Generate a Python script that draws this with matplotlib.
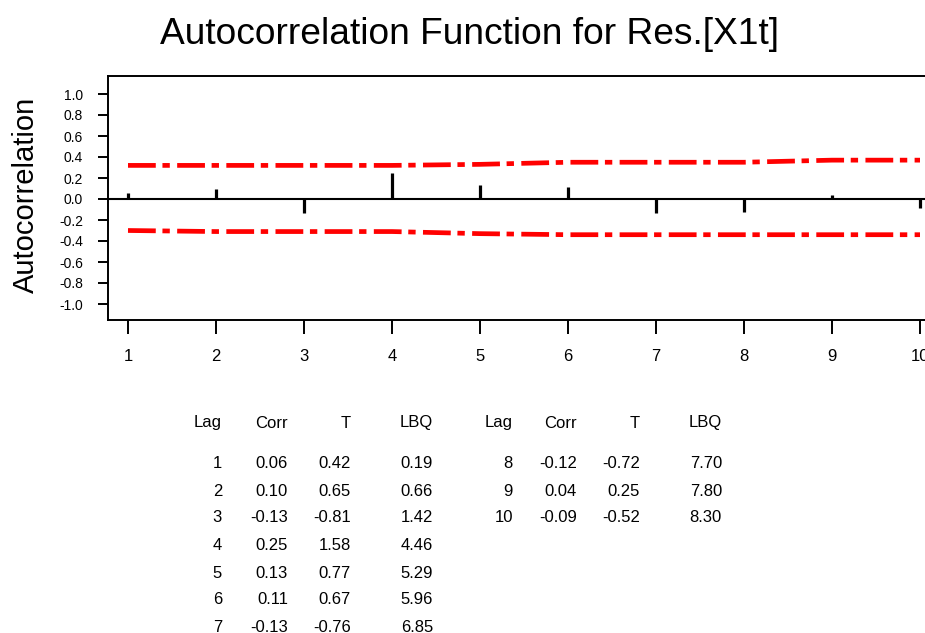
import matplotlib
matplotlib.use("Agg")
import matplotlib.pyplot as plt
import numpy as np

plt.rcParams['font.family'] = ['Liberation Sans', 'DejaVu Sans']
plt.rcParams['lines.scale_dashes'] = False

lags = [1, 2, 3, 4, 5, 6, 7, 8, 9, 10]
corr = [0.06, 0.10, -0.13, 0.25, 0.13, 0.11, -0.13, -0.12, 0.04, -0.09]
tstat = [0.42, 0.65, -0.81, 1.58, 0.77, 0.67, -0.76, -0.72, 0.25, -0.52]
lbq = [0.19, 0.66, 1.42, 4.46, 5.29, 5.96, 6.85, 7.70, 7.80, 8.30]
upper = [0.32, 0.32, 0.32, 0.32, 0.33, 0.35, 0.35, 0.35, 0.37, 0.37]
lower = [-0.30, -0.31, -0.31, -0.31, -0.33, -0.34, -0.34, -0.34, -0.34, -0.34]
yticks = [1.0, 0.8, 0.6, 0.4, 0.2, 0.0, -0.2, -0.4, -0.6, -0.8, -1.0]

W, H = 925, 633
fig = plt.figure(figsize=(W / 100, H / 100), dpi=100)

x_left, x_right_px = 108, 970
ax = fig.add_axes([x_left / W, 1 - 320 / H, (x_right_px - x_left) / W, (320 - 76) / H])
px_per_lag = (920 - 128) / 9
ax.set_xlim(1 - (128 - x_left) / px_per_lag, 1 + (x_right_px - 128) / px_per_lag)
ax.set_ylim(-(320 - 199) / 105, (199 - 76) / 105)

ax.axhline(0, color='black', lw=1.5)
ax.vlines(lags, 0, corr, color='black', lw=2.3)
for series in (upper, lower):
    ax.plot(lags, series, color='#ff0000', lw=3.4, dash_capstyle='butt',
            linestyle=(0, (20, 4.8, 5.3, 5.3)))

ax.set_xticks(lags)
ax.set_xticklabels([str(l) for l in lags], fontsize=12)
ax.set_yticks(yticks)
ax.set_yticklabels([f"{v:.1f}" for v in yticks], fontsize=10)
ax.tick_params(axis='x', length=10, width=1.4, pad=11, colors='black')
ax.tick_params(axis='y', length=7, width=1.4, pad=11)
for s in ('left', 'top', 'bottom'):
    ax.spines[s].set_linewidth(1.4)
ax.spines['right'].set_visible(False)

fig.text(469 / W, 1 - 34 / H, "Autocorrelation Function for Res.[X1t]", fontsize=26.7,
         ha='center', va='center')
fig.text(26 / W, 1 - 195 / H, "Autocorrelation", fontsize=21, rotation=90,
         ha='center', va='center')

# table
fs = 12
col_right = [222, 288, 351, 433]
col_right2 = [513, 577, 640, 722]
headers = ["Lag", "Corr", "T", "LBQ"]
row_y = [464, 491, 518, 545, 573, 600, 627]
for cols in (col_right, col_right2):
    for h, xr in zip(headers, cols):
        fig.text(xr / W, 1 - 423 / H, h, fontsize=fs, ha='right', va='center')
for i in range(len(lags)):
    if i < 7:
        cols, y = col_right, row_y[i]
    else:
        cols, y = col_right2, row_y[i - 7]
    vals = [str(lags[i]), f"{corr[i]:.2f}", f"{tstat[i]:.2f}", f"{lbq[i]:.2f}"]
    for v, xr in zip(vals, cols):
        fig.text(xr / W, 1 - y / H, v, fontsize=fs, ha='right', va='center')

fig.savefig("out.png", dpi=100)
